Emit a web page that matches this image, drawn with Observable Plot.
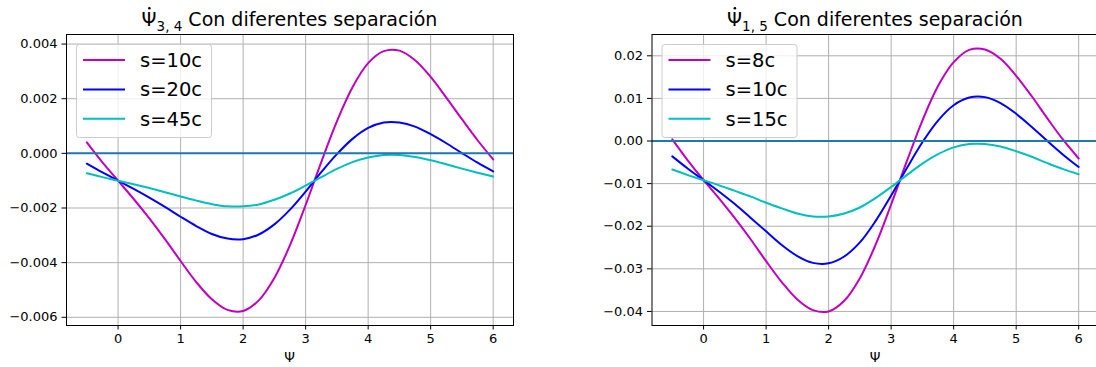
<!DOCTYPE html>
<html><head><meta charset="utf-8">
<script src="https://cdn.jsdelivr.net/npm/d3@7"></script>
<script src="https://cdn.jsdelivr.net/npm/@observablehq/plot@0.6"></script>
<style>
body{margin:0;background:#fff;}
#chart{position:relative;width:1096px;height:367px;overflow:hidden;background:#fff;}
#chart svg{position:absolute;top:0;}
#chart svg, #chart svg text{font-family:"DejaVu Sans" !important;}
</style></head><body><div id="chart"></div>
<script>
// ---- data ----
const psi = [-0.5,-0.25,0,0.25,0.5,0.75,1,1.25,1.5,1.75,2,2.25,2.5,2.75,3,3.25,3.5,3.75,4,4.25,4.5,4.75,5,5.25,5.5,5.75,6];
const xTicks = [0,1,2,3,4,5,6];

const leftNames = ["s=10c","s=20c","s=45c"];
const left_s10c = [0.00040,-0.00033,-0.00100,-0.00167,-0.00238,-0.00314,-0.00394,-0.00471,-0.00534,-0.00573,-0.00577,-0.00538,-0.00456,-0.00336,-0.00189,-0.00032,0.00117,0.00242,0.00330,0.00374,0.00376,0.00341,0.00280,0.00204,0.00125,0.00048,-0.00022];
const left_s20c = [-0.00038,-0.00070,-0.00100,-0.00130,-0.00162,-0.00196,-0.00232,-0.00266,-0.00295,-0.00312,-0.00314,-0.00297,-0.00260,-0.00206,-0.00140,-0.00069,-0.00003,0.00053,0.00093,0.00113,0.00113,0.00098,0.00070,0.00037,0.00001,-0.00034,-0.00066];
const left_s45c = [-0.00073,-0.00087,-0.00100,-0.00113,-0.00127,-0.00142,-0.00158,-0.00173,-0.00186,-0.00194,-0.00194,-0.00187,-0.00170,-0.00147,-0.00118,-0.00087,-0.00057,-0.00032,-0.00015,-0.00006,-0.00006,-0.00013,-0.00025,-0.00040,-0.00056,-0.00071,-0.00085];
const leftYTicks = [-0.006,-0.004,-0.002,0,0.002,0.004];

const rightNames = ["s=8c","s=10c","s=15c"];
const right_s8c = [0.0004,-0.0046,-0.0092,-0.0135,-0.0181,-0.0230,-0.0282,-0.0331,-0.0372,-0.0397,-0.0400,-0.0375,-0.0322,-0.0244,-0.0149,-0.0048,0.0048,0.0129,0.0185,0.0214,0.0215,0.0193,0.0153,0.0105,0.0053,0.0003,-0.0041];
const right_s10c = [-0.0036,-0.0065,-0.0092,-0.0119,-0.0148,-0.0180,-0.0212,-0.0244,-0.0270,-0.0286,-0.0287,-0.0271,-0.0238,-0.0188,-0.0128,-0.0064,-0.0003,0.0048,0.0084,0.0102,0.0103,0.0089,0.0064,0.0033,0.0000,-0.0032,-0.0061];
const right_s15c = [-0.0067,-0.0080,-0.0092,-0.0104,-0.0117,-0.0130,-0.0145,-0.0158,-0.0170,-0.0177,-0.0177,-0.0170,-0.0156,-0.0134,-0.0108,-0.0080,-0.0053,-0.0031,-0.0015,-0.0007,-0.0007,-0.0013,-0.0024,-0.0037,-0.0052,-0.0066,-0.0078];
const rightYTicks = [-0.04,-0.03,-0.02,-0.01,0,0.01,0.02];

// ---- styles ----
const colors = ["#bf00bf","#0000ff","#00bfbf"];
const FONT = "DejaVu Sans";
const TICK_FONT = 13;

function panel(opts){
  const {series, yDomain, yTicks, yFmt, left, width, marginLeft, marginRight} = opts;
  const marks = [
    Plot.gridX(xTicks, {stroke:"#b0b0b0", strokeOpacity:1, strokeWidth:1}),
    Plot.gridY(yTicks, {stroke:"#b0b0b0", strokeOpacity:1, strokeWidth:1}),
  ];
  series.forEach((vals, k) => {
    const rows = psi.map((x,i)=>({x, y: vals[i]}));
    marks.push(Plot.line(rows, {x:"x", y:"y", stroke: colors[k], strokeWidth:2, curve:"catmull-rom"}));
  });
  marks.push(
    Plot.ruleY([0], {stroke:"#1f77b4", strokeWidth:2}),
    Plot.frame({stroke:"#000", strokeWidth:1}),
    Plot.axisX(xTicks, {tickSize:4.5, tickPadding:3.5, tickFormat:d3.format("d"), label:null, stroke:"#000"}),
    Plot.axisY(yTicks, {tickSize:4.5, tickPadding:4.5, tickFormat:d3.format(yFmt), label:null, stroke:"#000"})
  );
  const svg = Plot.plot({
    width, height:367, marginLeft, marginRight, marginTop:34, marginBottom:42,
    x:{domain:[-0.825, 6.325]},
    y:{domain:yDomain},
    style:{fontFamily:FONT, color:"#000", background:"transparent", overflow:"visible"},
    marks
  });
  svg.style.left = left + "px";
  d3.select(svg).attr("font-family", FONT).attr("font-size", TICK_FONT)
    .style("font-family", FONT).style("font-size", TICK_FONT + "px");
  d3.select(svg).selectAll("g").filter(function(){ return this.getAttribute("font-size") != null; })
    .attr("font-size", TICK_FONT);
  d3.select(svg).selectAll("g").filter(function(){ return this.getAttribute("font-family") != null; })
    .attr("font-family", FONT);
  d3.select(svg).selectAll("text")
    .attr("font-size", TICK_FONT).style("font-size", TICK_FONT + "px")
    .attr("font-family", FONT).style("font-family", FONT);
  return svg;
}

function decorate(svg, opts){
  const {names, width, marginLeft, marginRight, titleMain, titleSub} = opts;
  const s = d3.select(svg);
  const cx = marginLeft + (width - marginLeft - marginRight)/2;
  // x label
  s.append("text").attr("x", cx).attr("y", 362).attr("text-anchor","middle")
    .style("font-family", FONT).style("font-size", "13.5px").attr("fill","#000").text("Ψ");
  // title
  const t = s.append("text").attr("x", cx).attr("y", 26).attr("text-anchor","middle")
    .style("font-family", FONT).style("font-size", "19px").attr("fill","#000");
  t.append("tspan").text(titleMain);
  t.append("tspan").attr("dy", 4.5).style("font-size", "13.5px").text(titleSub);
  t.append("tspan").attr("dy", -4.5).text(" Con diferentes separación");
  // dot above Ψ
  const node = t.node();
  const st = node.getStartPositionOfChar(0).x, en = node.getEndPositionOfChar(0).x;
  s.append("circle").attr("cx", (st+en)/2 + 0.3).attr("cy", 8.2).attr("r", 1.3).attr("fill","#000");
  // legend
  const lx = marginLeft + 10, ly = 44;
  const g = s.append("g");
  g.append("rect").attr("x", lx+0.5).attr("y", ly+0.5).attr("width", 135).attr("height", 93).attr("rx", 3)
    .attr("fill","#fff").attr("fill-opacity",0.8).attr("stroke","#cccccc").attr("stroke-width",1);
  names.forEach((n,k)=>{
    const yy = ly + 16 + k*29.4;
    g.append("line").attr("x1", lx+7).attr("x2", lx+49).attr("y1", yy).attr("y2", yy)
      .attr("stroke", colors[k]).attr("stroke-width", 2);
    g.append("text").attr("x", lx+64).attr("y", yy).attr("dy","0.36em").attr("text-anchor","start")
      .style("font-family", FONT).style("font-size", "19.5px").attr("fill","#000").text(n);
  });
}

const chart = document.getElementById("chart");
const leftOpts = {
  series:[left_s10c, left_s20c, left_s45c], names:leftNames,
  yDomain:[-0.0063, 0.00435], yTicks:leftYTicks, yFmt:".3f",
  left:0, width:548, marginLeft:66, marginRight:35,
  titleMain:"Ψ", titleSub:"3, 4"
};
const rightOpts = {
  series:[right_s8c, right_s10c, right_s15c], names:rightNames,
  yDomain:[-0.0433, 0.0250], yTicks:rightYTicks, yFmt:".2f",
  left:548, width:560, marginLeft:103.5, marginRight:9.5,
  titleMain:"Ψ", titleSub:"1, 5"
};
const svgL = panel(leftOpts), svgR = panel(rightOpts);
chart.appendChild(svgL); chart.appendChild(svgR);
decorate(svgL, leftOpts); decorate(svgR, rightOpts);
</script>
</body></html>
